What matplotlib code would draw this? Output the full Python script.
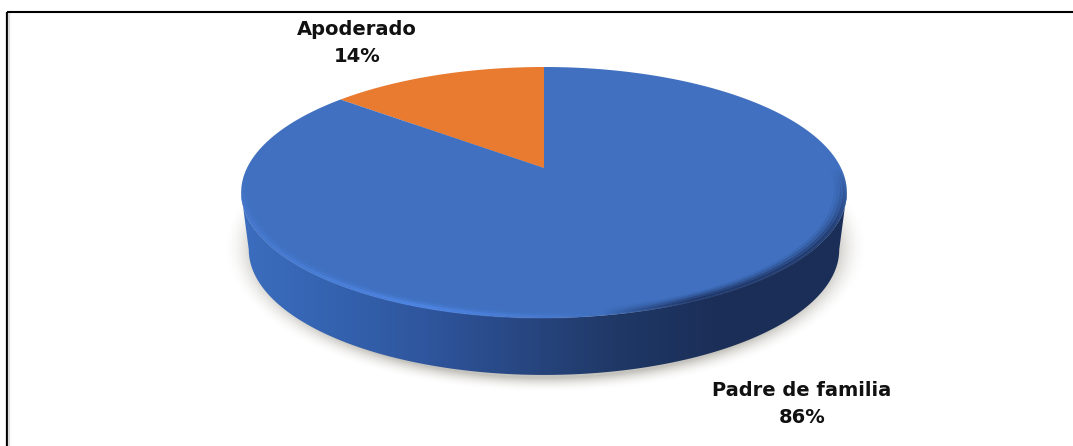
import matplotlib
matplotlib.use('Agg')
import matplotlib.pyplot as plt
from matplotlib.collections import LineCollection
from matplotlib.patches import Polygon
from matplotlib.colors import LinearSegmentedColormap
import numpy as np

# Pie data
categories = ['Apoderado', 'Padre de familia']
shares = [14, 86]
slice_colors = ['#E97B30', '#4070BF']

W, H = 1073, 446
CX, TIP_Y = 544, 168
A, B, K = 297.0, 120.7, 0.195
DEPTH = 57


def project(theta, scale=1.0):
    # theta runs clockwise from 12 o'clock, perspective view of a flat disc
    u, v = scale * np.sin(theta), scale * np.cos(theta)
    d = 1 + K * v
    return CX + A * u / d, TIP_Y - B * v / d


fig = plt.figure(figsize=(W / 100, H / 100), dpi=100)
ax = fig.add_axes([0, 0, 1, 1])
ax.set_xlim(0, W)
ax.set_ylim(H, 0)
ax.axis('off')

# frame, only top and left were drawn in the source
ax.plot([6.5, W], [12, 12], color='black', lw=1.5, solid_capstyle='butt')
ax.plot([6.5, 6.5], [12, H], color='black', lw=1.6, solid_capstyle='butt')
ax.plot([9, 9], [13, H], color='#dddddd', lw=1.6, solid_capstyle='butt')

# soft shadow under the disc
yy, xx = np.mgrid[0:H, 0:W]
r = np.sqrt(((xx - CX - 1) / 322.0) ** 2 + ((yy - 246) / 146.0) ** 2)
shadow = np.clip((1.0 - r) / 0.1, 0, 1) ** 2.0 * 0.8
rgba = np.zeros((H, W, 4))
rgba[..., :3] = np.array([0.72, 0.71, 0.68])
rgba[..., 3] = shadow
ax.imshow(rgba, extent=(0, W, H, 0), aspect='auto', zorder=1)

# side wall, between the widest points of the rim so its ends run straight down
widest = np.arcsin(K)
front = np.linspace(np.pi / 2 + widest, 3 * np.pi / 2 - widest, 300)
tx, ty = project(front)
bx = CX + (tx - CX) * 0.975
by = ty + DEPTH
side_xy = np.r_[np.c_[tx, ty], np.c_[bx, by][::-1]]
side_cmap = LinearSegmentedColormap.from_list('side', [
    (0.0, '#3C6DBE'), (0.12, '#3565B3'), (0.30, '#2F569E'), (0.48, '#27457F'),
    (0.62, '#1F3866'), (0.78, '#1B2F59'), (1.0, '#1B2E58')])
grad = np.linspace(0, 1, 256).reshape(1, -1)
im = ax.imshow(grad, cmap=side_cmap, extent=(241, 847, 400, 150),
               aspect='auto', zorder=2)
clip = Polygon(side_xy, closed=True, transform=ax.transData, fc='none', ec='none')
ax.add_patch(clip)
im.set_clip_path(clip)

# top face, one polygon per share
angle = -2 * np.pi * shares[0] / sum(shares)
for cat, share, col in zip(categories, shares, slice_colors):
    sweep = 2 * np.pi * share / sum(shares)
    th = np.linspace(angle, angle + sweep, 400)
    px, py = project(th)
    ax.add_patch(Polygon(np.c_[np.r_[CX, px], np.r_[TIP_Y, py]], closed=True,
                         fc=col, ec='none', zorder=4))
    angle += sweep

# bevel along the front rim: light on the left, dark and blurred on the right
rim = np.linspace(np.pi * 0.5, np.pi * 1.5, 500)
fade = np.clip(np.minimum(rim - np.pi * 0.5, np.pi * 1.5 - rim) / 0.45, 0, 1)[:-1]
for scale, width, light_a, dark_a in [(0.994, 2.6, 0.9, 0.75), (0.984, 2.6, 0.4, 0.5),
                                      (0.974, 2.6, 0.15, 0.25), (0.964, 2.6, 0.05, 0.1)]:
    rx_, ry_ = project(rim, scale)
    pts = np.c_[rx_, ry_].reshape(-1, 1, 2)
    segs = np.concatenate([pts[:-1], pts[1:]], axis=1)
    f = np.clip((segs[:, 0, 0] - 241) / (847 - 241), 0, 1)
    light = np.clip(1 - np.abs(f - 0.3) / 0.3, 0, 1)
    light[f < 0.3] = 0.4 + f[f < 0.3] / 0.3 * 0.6
    dark = np.clip((f - 0.6) / 0.15, 0, 1)
    cols = np.zeros((len(segs), 4))
    cols[:, :3] = np.where(dark[:, None] > 0, np.array([[0.11, 0.18, 0.35]]),
                           np.array([[0.31, 0.53, 0.90]]))
    cols[:, 3] = np.where(dark > 0, dark * dark_a, light * light_a) * fade
    ax.add_collection(LineCollection(segs, colors=cols, linewidths=width,
                                     capstyle='butt', zorder=5))

labels = [(f'{categories[0]}\n{shares[0]}%', 357, 43),
          (f'{categories[1]}\n{shares[1]}%', 802, 404)]
for txt, x, y in labels:
    ax.text(x, y, txt, ha='center', va='center', fontsize=14, fontweight='bold',
            color='#111111', family='DejaVu Sans', linespacing=1.5, zorder=6)

fig.savefig('out.png', dpi=100)
plt.close('all')
